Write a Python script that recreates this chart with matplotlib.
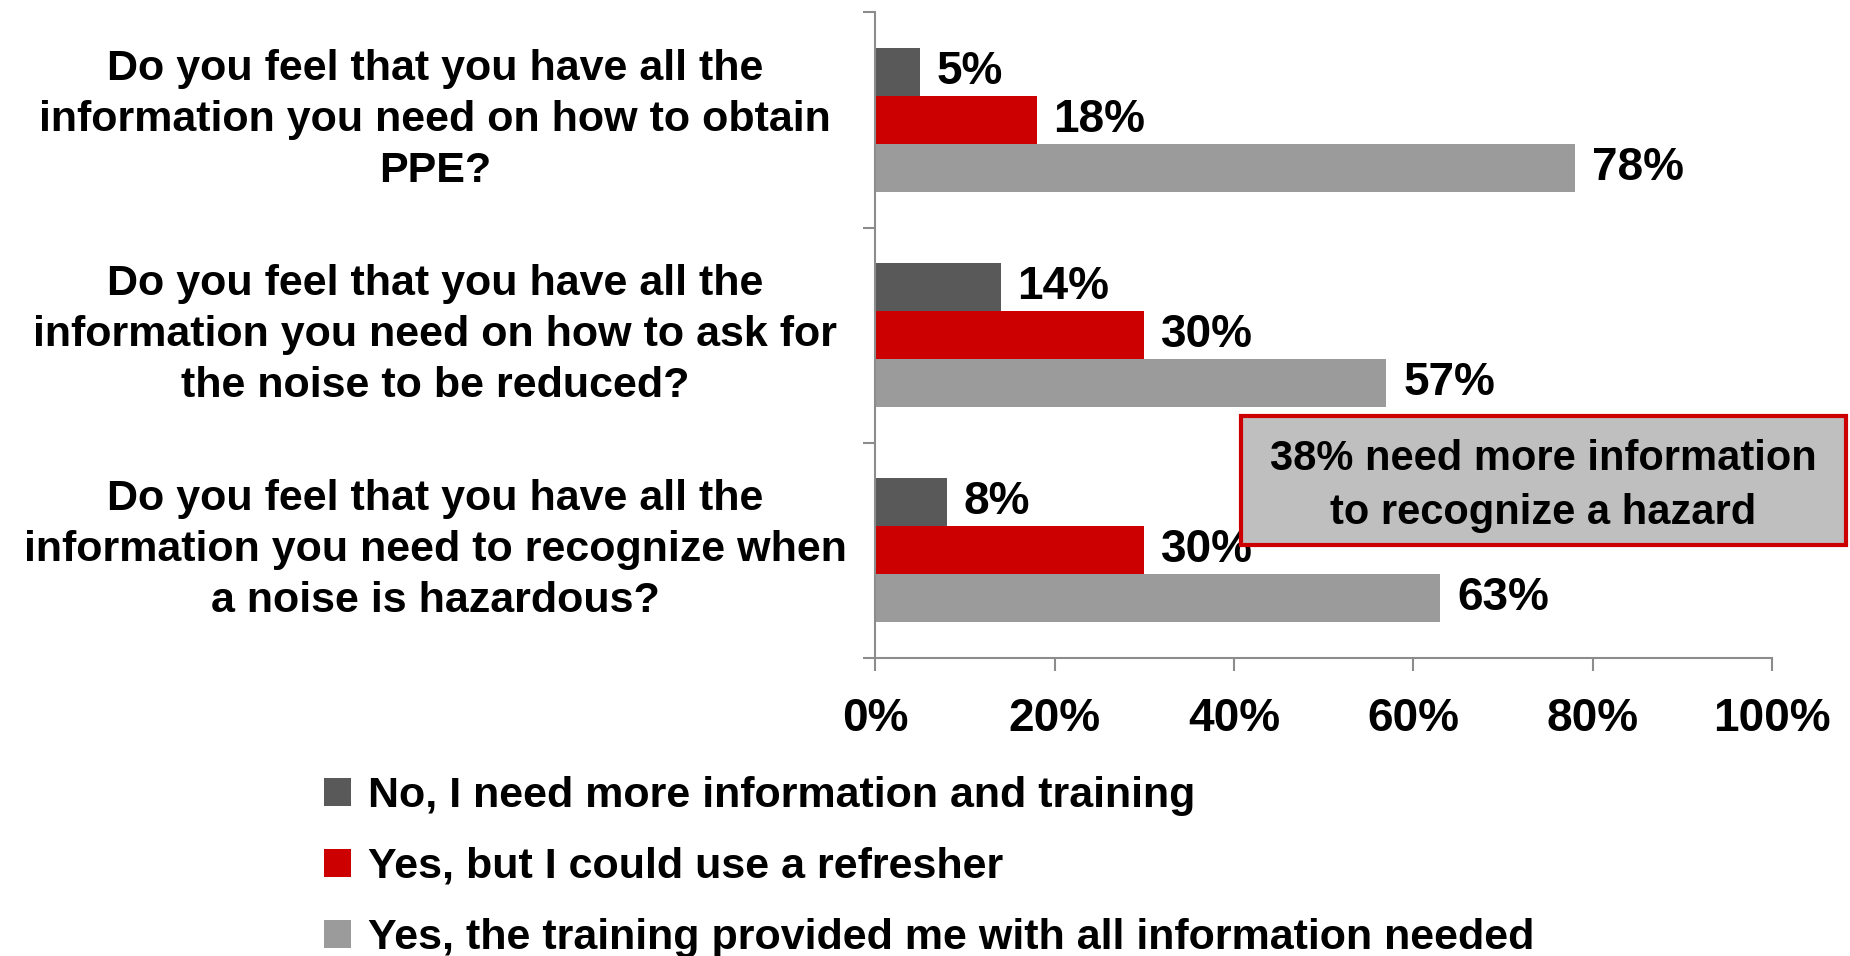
import matplotlib.pyplot as plt
import matplotlib.patches as mpatches
import matplotlib.transforms as mtransforms
import numpy as np

plt.rcParams['font.family'] = ['Liberation Sans', 'DejaVu Sans']
plt.rcParams['font.weight'] = 'bold'

questions = [
    "Do you feel that you have all the\ninformation you need on how to obtain\nPPE?",
    "Do you feel that you have all the\ninformation you need on how to ask for\nthe noise to be reduced?",
    "Do you feel that you have all the\ninformation you need to recognize when\na noise is hazardous?",
]
series_names = [
    "No, I need more information and training",
    "Yes, but I could use a refresher",
    "Yes, the training provided me with all information needed",
]
no_more_info = [5, 14, 8]
yes_refresher = [18, 30, 30]
yes_all_info = [78, 57, 63]
colors = ['#595959', '#cc0000', '#9b9b9b']
callout = "38% need more information\nto recognize a hazard"

FS = 31      # question / legend text
FS_NUM = 33  # value labels and tick labels

fig = plt.figure(figsize=(18.5, 9.56), dpi=100)
ax = fig.add_axes([0.473, 0.312, 0.485, 0.675])

y = np.arange(len(questions))
h = 0.2225
for k, (vals, c, name) in enumerate(zip([no_more_info, yes_refresher, yes_all_info], colors, series_names)):
    pos = y + (k - 1) * h
    bars = ax.barh(pos, vals, height=h, color=c, label=name, edgecolor='none')
    for b, v in zip(bars, vals):
        ax.annotate(f"{v}%", (v, b.get_y() + h / 2), xytext=(12, 0),
                    textcoords='offset points', va='center', ha='left',
                    fontsize=FS_NUM, fontweight='bold')

ax.set_xlim(0, 100)
ax.set_ylim(2.5, -0.5)
ax.set_xticks(np.arange(0, 101, 20))
ax.set_xticklabels([f"{t}%" for t in range(0, 101, 20)], fontsize=FS_NUM, fontweight='bold')
ax.set_yticks([-0.5, 0.5, 1.5, 2.5])
ax.set_yticklabels([])
ax.tick_params(axis='both', direction='out', length=9, width=1.5, color='#8c8c8c')
ax.tick_params(axis='x', pad=19)
for s in ['top', 'right']:
    ax.spines[s].set_visible(False)
for s in ['left', 'bottom']:
    ax.spines[s].set_color('#8c8c8c')
    ax.spines[s].set_linewidth(1.5)

# question labels, centered in the left margin
qtrans = mtransforms.blended_transform_factory(fig.transFigure, ax.transData)
for i, q in enumerate(questions):
    ax.text(435 / 1850, i, q, transform=qtrans, ha='center', va='center',
            multialignment='center', fontsize=FS, fontweight='bold', linespacing=1.36)

# callout box
rect = mpatches.Rectangle((1241 / 1850, 1 - 545 / 956), (1846 - 1241) / 1850, (545 - 416) / 956,
                          transform=fig.transFigure, facecolor='#bfbfbf', edgecolor='#cc0000',
                          linewidth=3, zorder=5)
fig.patches.append(rect)
fig.text(1543 / 1850, 1 - 486 / 956, callout, ha='center', va='center', fontsize=30,
         fontweight='bold', linespacing=1.48, zorder=6)

leg = fig.legend(loc='upper left', bbox_to_anchor=(324 / 1850, 1 - 776 / 956), frameon=False,
                 fontsize=FS, handlelength=0.62, handleheight=0.62, handletextpad=0.4,
                 labelspacing=0.72, borderpad=0, borderaxespad=0)

fig.savefig('out.png', dpi=100)
